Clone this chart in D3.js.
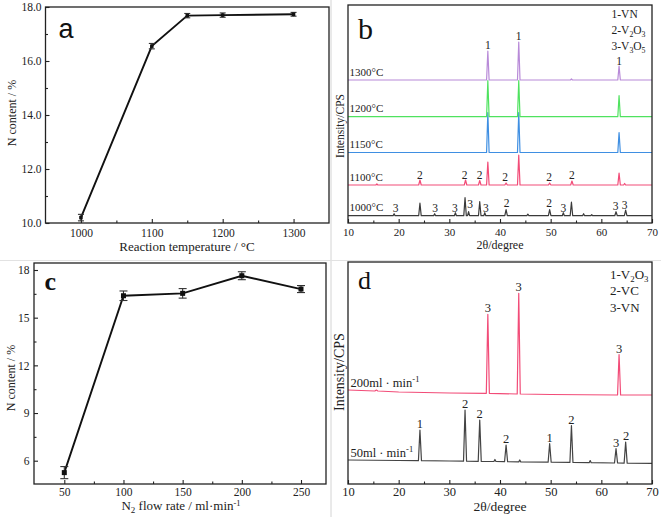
<!DOCTYPE html>
<html><head><meta charset="utf-8">
<script src="https://cdn.jsdelivr.net/npm/d3@7"></script>
<style>body{margin:0;background:#fff}svg{display:block}</style>
</head><body><svg id="chart" width="661" height="517"></svg>
<script>
// ---------- Panel a data ----------
const aTemps = [1000, 1100, 1150, 1200, 1300];
const aN = [10.2, 16.55, 17.68, 17.7, 17.73];
const aErr = [0.12, 0.1, 0.08, 0.08, 0.07];
const aXTicks = [1000, 1100, 1200, 1300];
const aXMinor = [1050, 1150, 1250];
const aYTicks = [10, 12, 14, 16, 18];
const aYMinor = [11, 13, 15, 17];

// ---------- Panel c data ----------
const cFlow = [50, 100, 150, 200, 250];
const cN = [5.25, 16.38, 16.53, 17.64, 16.8];
const cErr = [0.38, 0.3, 0.3, 0.25, 0.22];
const cXTicks = [50, 100, 150, 200, 250];
const cXMinor = [75, 125, 175, 225];
const cYTicks = [6, 9, 12, 15, 18];
const cYMinor = [7.5, 10.5, 13.5, 16.5];

// ---------- XRD axes ----------
const xrdXTicks = [10, 20, 30, 40, 50, 60, 70];
const xrdXMinor = [15, 25, 35, 45, 55, 65];

// ---------- Panel b data (intensity relative to each pattern's baseline) ----------
const bNames = ["1000°C", "1100°C", "1150°C", "1200°C", "1300°C"];
const bOffsets = [7.3, 38, 70.5, 106.3, 143];
const bColors = ["#3a3a3a", "#f24c78", "#3f8fe2", "#4fe25f", "#b88ad8"];
const b1000 = [[10,0],[18.9,0],[19.1,2],[19.3,0],[23.95,0],[24.2,12.5],[24.45,0],[26.9,0],[27.1,2],[27.3,0],[31.0,0],[31.2,3],[31.4,0],[32.85,0],[33.1,18],[33.35,0],[33.6,0],[33.8,4],[34.0,0],[35.75,0],[36.0,14],[36.25,0],[36.8,0],[37.0,3],[37.2,0],[40.95,0],[41.2,6],[41.45,0],[45.3,0],[45.5,1.5],[45.7,0],[49.55,0],[49.8,6],[50.05,0],[52.3,0],[52.5,3],[52.7,0],[53.85,0],[54.1,13.5],[54.35,0],[56.3,0],[56.5,2],[56.7,0],[57.9,0],[58.1,1],[58.3,0],[62.65,0],[62.9,4],[63.15,0],[64.55,0],[64.8,5.5],[65.05,0],[70,0]];
const b1100 = [[10,0],[15.5,0],[15.7,1],[15.9,0],[23.95,0],[24.2,5],[24.45,0],[32.95,0],[33.2,5],[33.45,0],[35.75,0],[36.0,4.5],[36.25,0],[37.35,0],[37.6,23],[37.85,0],[40.95,0],[41.2,2],[41.45,0],[43.45,0],[43.7,30],[43.95,0],[49.55,0],[49.8,2],[50.05,0],[53.95,0],[54.2,4],[54.45,0],[63.25,0],[63.5,12],[63.75,0],[64.4,0],[64.6,1.5],[64.8,0],[70,0]];
const b1150 = [[10,0],[37.35,0],[37.6,40],[37.85,0],[43.45,0],[43.7,40],[43.95,0],[63.25,0],[63.5,20],[63.75,0],[70,0]];
const b1200 = [[10,0],[37.35,0],[37.6,36],[37.85,0],[43.45,0],[43.7,36],[43.95,0],[63.25,0],[63.5,21],[63.75,0],[70,0]];
const b1300 = [[10,0],[37.35,0],[37.6,29],[37.85,0],[43.45,0],[43.7,38],[43.95,0],[53.9,0],[54.1,1],[54.3,0],[63.25,0],[63.5,14],[63.75,0],[70,0]];
const bPatterns = [b1000, b1100, b1150, b1200, b1300];
// peak labels: [2theta, label, absolute intensity]
const bPeakLabels = [
  [19.4,"3",11.3],[27.2,"3",11.3],[31.1,"3",11.3],[34.1,"3",14.7],[37.2,"3",11.3],[41.3,"2",16.3],[49.7,"2",16.3],[52.5,"3",11.3],[62.8,"3",13.5],[64.6,"3",14],
  [24.2,"2",44.5],[33.0,"2",44.5],[36.0,"2",44.5],[41.0,"2",42],[49.7,"2",42],[54.2,"2",44],
  [37.6,"1",174.5],[43.7,"1",183],[63.5,"1",158.5]
];
const bLegend = [["1-VN"],["2-V","2","O","3"],["3-V","3","O","5"]];

// ---------- Panel d data (absolute intensity) ----------
const dNames = ["50ml · min", "200ml · min"];
const dColors = ["#444444", "#f24c78"];
const d50 = [[10,24],[20,23.5],[23.9,23.3],[24.2,54],[24.5,23.3],[30,23],[32.8,22.8],[33.1,74],[33.4,22.8],[35.7,22.6],[36.0,64],[36.3,22.6],[38.8,22.5],[39.0,24.5],[39.2,22.5],[40.9,22.3],[41.2,39],[41.5,22.3],[43.7,22.1],[43.9,24],[44.1,22.1],[49.5,21.8],[49.8,40.5],[50.1,21.8],[53.8,21.6],[54.1,58.5],[54.4,21.6],[57.6,21.3],[57.8,23.5],[58.0,21.3],[62.6,21],[62.9,35.5],[63.2,21],[64.5,20.9],[64.8,42],[65.1,20.9],[70,20.7]];
const d200 = [[10,94],[15.3,93],[15.6,94],[15.9,93],[20,92],[30,91],[37.3,90.7],[37.6,169.7],[37.9,90.7],[43.4,90],[43.7,190.7],[44.0,90],[50,89.5],[63.2,89],[63.5,129.5],[63.8,89],[70,89]];
const dPatterns = [d50, d200];
const dPeakLabels = [
  [24.2,"1",56.5],[33.1,"2",76.5],[36.0,"2",66.5],[41.2,"2",41],[49.8,"1",42.5],[54.1,"2",60.5],[62.9,"3",37.5],[64.9,"2",44],
  [37.6,"3",172],[43.7,"3",193],[63.5,"3",131]
];
const dLegend = [["1-V","2","O","3"],["2-VC"],["3-VN"]];

// ====================================================
const svg = d3.select("#chart");
svg.append("rect").attr("width",661).attr("height",517).attr("fill","#fff");
const serif = "'Liberation Serif','Times New Roman',serif";
const sans = "'Liberation Sans',Arial,sans-serif";
const ink = "#222";

// faint figure separators
svg.append("line").attr("x1",331).attr("x2",331).attr("y1",0).attr("y2",517).attr("stroke","#d4d4d4");
svg.append("line").attr("x1",0).attr("x2",661).attr("y1",260.5).attr("y2",260.5).attr("stroke","#e2e2e2");

function frame(x0,y0,x1,y1){
  svg.append("rect").attr("x",x0).attr("y",y0).attr("width",x1-x0).attr("height",y1-y0)
    .attr("fill","none").attr("stroke",ink).attr("stroke-width",1.3);
}
function styleAxis(g, fs){
  g.select(".domain").remove();
  g.selectAll(".tick line").attr("stroke",ink).attr("stroke-width",1.1);
  g.selectAll(".tick text").attr("font-family",serif).attr("font-size",fs).attr("fill",ink);
}
function xAxis(scale, y, ticks, minor, fmt, fs, pad){
  const g = svg.append("g").attr("transform",`translate(0,${y})`)
    .call(d3.axisBottom(scale).tickValues(ticks).tickSize(-4).tickPadding(pad).tickFormat(fmt));
  styleAxis(g, fs);
  const m = svg.append("g").attr("transform",`translate(0,${y})`)
    .call(d3.axisBottom(scale).tickValues(minor).tickSize(-2.5).tickFormat(""));
  styleAxis(m, fs);
}
function yAxis(scale, x, ticks, minor, fmt, fs, pad){
  const g = svg.append("g").attr("transform",`translate(${x},0)`)
    .call(d3.axisLeft(scale).tickValues(ticks).tickSize(-4).tickPadding(pad).tickFormat(fmt));
  styleAxis(g, fs);
  const m = svg.append("g").attr("transform",`translate(${x},0)`)
    .call(d3.axisLeft(scale).tickValues(minor).tickSize(-2.5).tickFormat(""));
  styleAxis(m, fs);
}
function rotLabel(x,y,text,fs){
  svg.append("text").attr("transform",`translate(${x},${y}) rotate(-90)`).attr("text-anchor","middle")
    .attr("font-family",serif).attr("font-size",fs).attr("fill",ink).text(text);
}
function errorPlot(xs, ys, xv, yv, ev, cap, marker){
  const pts = xv.map((v,i)=>[v,yv[i],ev[i]]);
  svg.append("path").datum(pts).attr("fill","none").attr("stroke","#111").attr("stroke-width",1.9)
    .attr("d", d3.line().x(d=>xs(d[0])).y(d=>ys(d[1])));
  const g = svg.append("g").attr("stroke","#333").attr("stroke-width",1.1);
  pts.forEach(d=>{
    g.append("line").attr("x1",xs(d[0])).attr("x2",xs(d[0])).attr("y1",ys(d[1]-d[2])).attr("y2",ys(d[1]+d[2]));
    [d[1]-d[2], d[1]+d[2]].forEach(v=>{
      g.append("line").attr("x1",xs(d[0])-cap).attr("x2",xs(d[0])+cap).attr("y1",ys(v)).attr("y2",ys(v));
    });
  });
  svg.append("g").selectAll("rect").data(pts).join("rect")
    .attr("x",d=>xs(d[0])-marker/2).attr("y",d=>ys(d[1])-marker/2)
    .attr("width",marker).attr("height",marker).attr("fill","#111");
}

// ---------------- Panel a ----------------
{
  const x = d3.scaleLinear().domain([950,1350]).range([45.5,329]);
  const y = d3.scaleLinear().domain([10,18]).range([223,7]);
  frame(45.5,7,329,223);
  xAxis(x,223,aXTicks,aXMinor,d3.format("d"),11.5,5.5);
  yAxis(y,45.5,aYTicks,aYMinor,d3.format(".1f"),11.5,4);
  errorPlot(x,y,aTemps,aN,aErr,3,3.5);
  svg.append("text").attr("x",187).attr("y",251).attr("text-anchor","middle")
    .attr("font-family",serif).attr("font-size",13).attr("fill",ink).text("Reaction temperature / °C");
  rotLabel(15.5,113,"N content / %",12);
  svg.append("text").attr("x",58.5).attr("y",37.5).attr("font-family",sans).attr("font-size",27).attr("fill","#111").text("a");
}

// ---------------- Panel c ----------------
{
  const x = d3.scaleLinear().domain([50,250]).range([64.3,301]);
  const y = d3.scaleLinear().domain([6,18]).range([460.7,270]);
  frame(34,263,326,484);
  xAxis(x,484,cXTicks,cXMinor,d3.format("d"),11.5,3.5);
  yAxis(y,34,cYTicks,cYMinor,d3.format("d"),11.5,4.5);
  errorPlot(x,y,cFlow,cN,cErr,4,5);
  const t = svg.append("text").attr("x",181).attr("y",510).attr("text-anchor","middle")
    .attr("font-family",serif).attr("font-size",13).attr("fill",ink);
  t.append("tspan").text("N");
  t.append("tspan").attr("font-size",9).attr("dy",3).text("2");
  t.append("tspan").attr("dy",-3).text(" flow rate / ml·min");
  t.append("tspan").attr("font-size",8.5).attr("dy",-4).text("-1");
  rotLabel(15,378,"N content / %",12);
  svg.append("text").attr("x",44.5).attr("y",290).attr("font-family",serif).attr("font-weight","bold")
    .attr("font-size",26).attr("fill","#111").text("c");
}

function legendBlock(x, y0, dy, items, fs){
  items.forEach((parts,i)=>{
    const t = svg.append("text").attr("x",x).attr("y",y0+i*dy).attr("font-family",serif)
      .attr("font-size",fs).attr("fill",ink);
    parts.forEach((p,j)=>{
      if (j%2===1) t.append("tspan").attr("font-size",fs*0.68).attr("dy",3).text(p);
      else t.append("tspan").attr("dy", j===0?0:-3).text(p);
    });
  });
}

// ---------------- Panel b ----------------
{
  const x = d3.scaleLinear().domain([10,70]).range([348,652]);
  const y = d3.scaleLinear().domain([0,218]).range([223,5]);
  bPatterns.forEach((pat,i)=>{
    svg.append("path").datum(pat).attr("fill","none").attr("stroke",bColors[i]).attr("stroke-width",1.2)
      .attr("stroke-linejoin","round")
      .attr("d", d3.line().x(d=>x(d[0])).y(d=>y(d[1]+bOffsets[i])));
    svg.append("text").attr("x",349.5).attr("y",y(bOffsets[i])-4.5).attr("font-family",serif)
      .attr("font-size",11).attr("fill",ink).text(bNames[i]);
  });
  svg.append("g").selectAll("text").data(bPeakLabels).join("text")
    .attr("x",d=>x(d[0])).attr("y",d=>y(d[2])).attr("text-anchor","middle")
    .attr("font-family",serif).attr("font-size",11.5).attr("fill",ink).text(d=>d[1]);
  frame(348,5,652,223);
  xAxis(x,223,xrdXTicks,xrdXMinor,d3.format("d"),11,4.8);
  svg.append("text").attr("x",500).attr("y",248.5).attr("text-anchor","middle")
    .attr("font-family",serif).attr("font-size",12).attr("fill",ink).text("2θ/degree");
  rotLabel(343.5,126,"Intensity/CPS",11.5);
  legendBlock(611.5,18,16,bLegend,11.5);
  svg.append("text").attr("x",358).attr("y",39.3).attr("font-family",serif).attr("font-size",30).attr("fill","#111").text("b");
}

// ---------------- Panel d ----------------
{
  const x = d3.scaleLinear().domain([10,70]).range([348,652]);
  const y = d3.scaleLinear().domain([0,222]).range([484,262]);
  dPatterns.forEach((pat,i)=>{
    svg.append("path").datum(pat).attr("fill","none").attr("stroke",dColors[i]).attr("stroke-width",1.2)
      .attr("stroke-linejoin","round")
      .attr("d", d3.line().x(d=>x(d[0])).y(d=>y(d[1])));
    const t = svg.append("text").attr("x",350.5).attr("y",y(pat[0][1])-3).attr("font-family",serif)
      .attr("font-size",12.5).attr("fill",ink);
    t.append("tspan").text(dNames[i]);
    t.append("tspan").attr("font-size",8.5).attr("dy",-5).text("-1");
  });
  svg.append("g").selectAll("text").data(dPeakLabels).join("text")
    .attr("x",d=>x(d[0])).attr("y",d=>y(d[2])).attr("text-anchor","middle")
    .attr("font-family",serif).attr("font-size",12.5).attr("fill",ink).text(d=>d[1]);
  frame(348,262,652,484);
  xAxis(x,484,xrdXTicks,xrdXMinor,d3.format("d"),12.5,3.2);
  svg.append("text").attr("x",500).attr("y",511).attr("text-anchor","middle")
    .attr("font-family",serif).attr("font-size",13.5).attr("fill",ink).text("2θ/degree");
  rotLabel(344,372,"Intensity/CPS",14);
  legendBlock(610,279,16.3,dLegend,13);
  svg.append("text").attr("x",358).attr("y",289.3).attr("font-family",serif).attr("font-size",26).attr("fill","#111").text("d");
}
</script></body></html>
